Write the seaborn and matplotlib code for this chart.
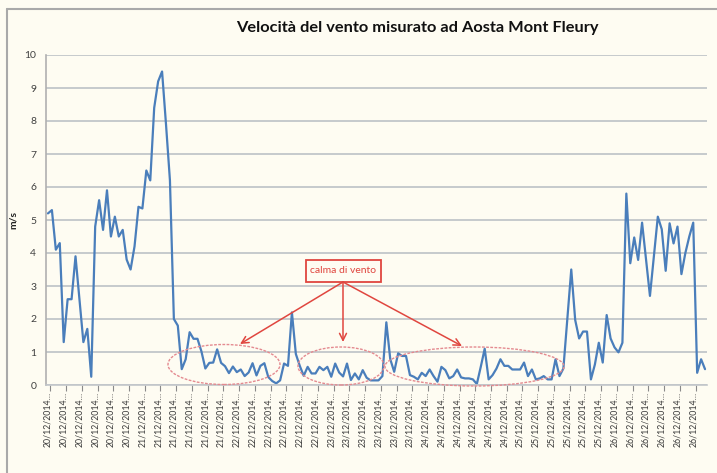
import matplotlib
matplotlib.use("Agg")
import matplotlib.pyplot as plt
from matplotlib.patches import Ellipse, FancyBboxPatch, FancyArrowPatch
from matplotlib.lines import Line2D
import numpy as np
import pandas as pd
import seaborn as sns

# Hourly wind speed (m/s), 20/12/2014 00:00 -> 26/12/2014 23:00
speed_day20 = [5.2, 5.3, 4.1, 4.3, 1.3, 2.6, 2.6, 3.9, 2.6, 1.3, 1.7, 0.25,
               4.8, 5.6, 4.7, 5.9, 4.5, 5.1, 4.5, 4.7, 3.8, 3.5, 4.2, 5.4]
speed_day21 = [5.35, 6.5, 6.2, 8.4, 9.2, 9.5, 7.9, 6.2, 2.0, 1.8, 0.48, 0.78,
               1.6, 1.4, 1.4, 1.02, 0.5, 0.67, 0.68, 1.08, 0.67, 0.57, 0.36, 0.56]
speed_day22 = [0.39, 0.47, 0.27, 0.38, 0.66, 0.29, 0.58, 0.66, 0.24, 0.12, 0.05, 0.14,
               0.65, 0.58, 2.2, 0.94, 0.58, 0.28, 0.55, 0.35, 0.35, 0.55, 0.45, 0.55]
speed_day23 = [0.25, 0.65, 0.38, 0.26, 0.65, 0.15, 0.35, 0.17, 0.45, 0.22, 0.14, 0.14,
               0.14, 0.27, 1.9, 0.78, 0.4, 0.96, 0.88, 0.88, 0.3, 0.25, 0.17, 0.37]
speed_day24 = [0.27, 0.47, 0.27, 0.1, 0.55, 0.45, 0.2, 0.27, 0.47, 0.23, 0.2, 0.2,
               0.17, 0.03, 0.55, 1.1, 0.17, 0.3, 0.5, 0.78, 0.58, 0.58, 0.47, 0.47]
speed_day25 = [0.47, 0.68, 0.27, 0.47, 0.17, 0.2, 0.27, 0.17, 0.17, 0.78, 0.27, 0.5,
               2.0, 3.5, 1.97, 1.41, 1.62, 1.62, 0.17, 0.62, 1.28, 0.68, 2.12, 1.41]
speed_day26 = [1.14, 0.99, 1.28, 5.8, 3.69, 4.47, 3.79, 4.92, 3.8, 2.7, 3.9, 5.1,
               4.72, 3.46, 4.9, 4.29, 4.8, 3.36, 4.0, 4.5, 4.92, 0.37, 0.78, 0.48]

speed = (speed_day20 + speed_day21 + speed_day22 + speed_day23 +
         speed_day24 + speed_day25 + speed_day26)
times = pd.date_range("2014-12-20 00:00", periods=len(speed), freq="h")
label_step = 4
y_ticks = list(range(0, 11))

title_text = "Velocità del vento misurato ad Aosta Mont Fleury"
y_label = "m/s"
note_text = "calma di vento"

df = pd.DataFrame({"pos": np.arange(len(speed)), "speed": speed, "time": times})

sns.set_theme(style="white")
plt.rcParams["font.family"] = ["Lato", "DejaVu Sans"]

W, H = 717, 473
bg = "#fefcf2"
fig = plt.figure(figsize=(W / 100, H / 100), dpi=100, facecolor=bg)

def fx(px):
    return px / W

def fy(py):
    return 1 - py / H

# outer frame (top and left edges)
fig.add_artist(Line2D([fx(7), 1.0], [fy(9), fy(9)], color="#a9a9a9", lw=1.5))
fig.add_artist(Line2D([fx(7), fx(7)], [fy(9), 0.0], color="#a9a9a9", lw=1.5))

ax = fig.add_axes([fx(46), fy(385), fx(707) - fx(46), fy(55) - fy(385)])
ax.set_facecolor(bg)

sns.lineplot(data=df, x="pos", y="speed", ax=ax, color="#4a7ebb", lw=1.6)

ax.set_xlim(-0.5, len(speed) - 0.5)
ax.set_ylim(0, 10)
ax.set_yticks(y_ticks)
ax.set_yticklabels([str(v) for v in y_ticks], fontsize=7.5, color="#404040")
ax.grid(axis="y", color="#c2c6ca", lw=1.3)
ax.grid(axis="x", visible=False)
ax.set_axisbelow(True)

tick_pos = df["pos"].iloc[::label_step].tolist()
tick_lab = [t.strftime("%d/%m/%Y") + "…" for t in df["time"].iloc[::label_step]]
ax.set_xticks(tick_pos)
ax.set_xticklabels(tick_lab, rotation=90, fontsize=6.3,
                   family=["Liberation Sans Narrow", "Lato", "DejaVu Sans"],
                   color="#383838")
ax.set_xticks([p + 0.6 for p in tick_pos], minor=True)
ax.tick_params(axis="x", which="major", length=0, pad=5)
ax.tick_params(axis="x", which="minor", length=4, width=0.8, color="#8a8a8a",
               direction="out", bottom=True)
ax.tick_params(axis="y", length=0, pad=7)

for side in ["top", "right"]:
    ax.spines[side].set_visible(False)
ax.spines["left"].set_color("#b0b0b0")
ax.spines["left"].set_linewidth(1.2)
ax.spines["bottom"].set_color("#c2c6ca")
ax.spines["bottom"].set_linewidth(1.2)

ax.set_xlabel("")
ax.set_ylabel(y_label, fontsize=7.5, fontweight="bold", color="#222222")
ax.yaxis.set_label_coords((18 - 46) / 661, 0.5)

fig.text(fx(417), fy(28), title_text, ha="center", va="center",
         fontsize=11.8, fontweight="bold", color="#111111")

# "calma di vento" annotation, drawn in pixel-based figure coordinates
red = "#e0463f"
box = FancyBboxPatch((fx(306), fy(282)), fx(381) - fx(306), fy(260) - fy(282),
                     boxstyle="square,pad=0", transform=fig.transFigure,
                     fill=False, edgecolor=red, lw=1.3)
fig.add_artist(box)
fig.text(fx(343.5), fy(270.5), note_text, ha="center", va="center",
         fontsize=7.5, color=red)

origin = (fx(343), fy(282))
for tip in [(240, 344), (343, 342), (462, 346)]:
    fig.add_artist(FancyArrowPatch(
        origin, (fx(tip[0]), fy(tip[1])), transform=fig.transFigure,
        arrowstyle="->,head_length=5,head_width=2.5", color=red, lw=1.1,
        shrinkA=0, shrinkB=0))

for cx, cy, w, h in [(224, 364.5, 112, 40), (341, 366, 86, 38), (474.5, 366.5, 179, 39)]:
    fig.add_artist(Ellipse((fx(cx), fy(cy)), fx(w), h / H, transform=fig.transFigure,
                           fill=False, edgecolor="#e48a90", lw=1.0,
                           linestyle=(0, (2.0, 1.0))))

fig.savefig("out.png", dpi=100, facecolor=bg)
